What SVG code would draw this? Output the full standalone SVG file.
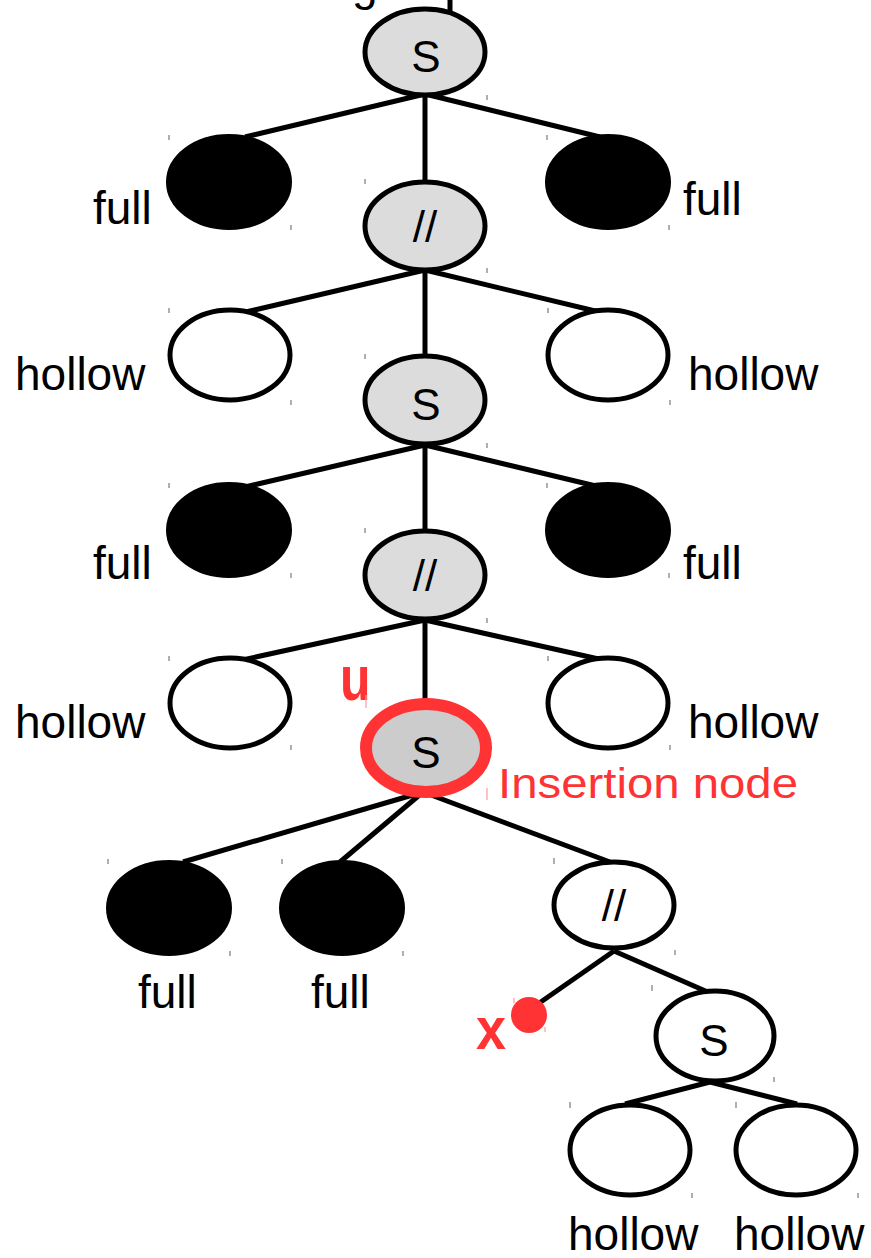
<svg xmlns="http://www.w3.org/2000/svg" width="871" height="1258" viewBox="0 0 871 1258">
  <style>
    .op { fill: #dcdcdc; stroke: #000; stroke-width: 5; }
    .op2 { fill: #fff; stroke: #000; stroke-width: 5; }
    .full { fill: #000; stroke: #000; stroke-width: 2; }
    .hollow { fill: #fff; stroke: #000; stroke-width: 5; }
    .edge { stroke: #000; stroke-width: 5; fill: none; stroke-linecap: butt; }
    .sym { font-family: "Liberation Sans", Arial, sans-serif; font-size: 44px; fill: #000; text-anchor: middle; }
    .lbl { font-family: "Liberation Sans", Arial, sans-serif; font-size: 46px; fill: #000; }
    .red { fill: #ff3333; }
    .redlbl { font-family: "Liberation Sans", Arial, sans-serif; font-weight: bold; fill: #ff3333; }
    .tick { stroke: #7a7a7a; stroke-width: 1.2; }
    .tickr { stroke: #ff9a9a; stroke-width: 1.2; }
  </style>

  <!-- stub of the parent above the root -->
  <g id="parent-stub">
    <text class="lbl" x="352" y="0">g</text>
    <line class="edge" x1="450" y1="0" x2="450" y2="14"/>
  </g>

  <!-- connectors -->
  <g id="connectors">
    <line class="edge" x1="425" y1="94" x2="245" y2="137"/>
    <line class="edge" x1="425" y1="94" x2="425" y2="182"/>
    <line class="edge" x1="425" y1="94" x2="600" y2="137"/>

    <line class="edge" x1="425" y1="270" x2="233" y2="315"/>
    <line class="edge" x1="425" y1="270" x2="425" y2="357"/>
    <line class="edge" x1="425" y1="270" x2="612" y2="315"/>

    <line class="edge" x1="425" y1="445" x2="245" y2="487"/>
    <line class="edge" x1="425" y1="445" x2="425" y2="530"/>
    <line class="edge" x1="425" y1="445" x2="600" y2="487"/>

    <line class="edge" x1="425" y1="620" x2="233" y2="662"/>
    <line class="edge" x1="425" y1="620" x2="425" y2="706"/>
    <line class="edge" x1="425" y1="620" x2="612" y2="662"/>

    <line class="edge" x1="423" y1="792" x2="183" y2="862"/>
    <line class="edge" x1="423" y1="792" x2="340" y2="862"/>
    <line class="edge" x1="423" y1="792" x2="610" y2="862"/>

    <line class="edge" x1="614" y1="951" x2="535" y2="1006"/>
    <line class="edge" x1="614" y1="951" x2="710" y2="993"/>

    <line class="edge" x1="710" y1="1082" x2="625" y2="1104"/>
    <line class="edge" x1="710" y1="1082" x2="797" y2="1104"/>
  </g>

  <!-- spine of alternating series / parallel nodes -->
  <g id="s1"><ellipse class="op" cx="425" cy="52" rx="60" ry="43"/><text class="sym" x="426" y="72">S</text></g>
  <g id="p1"><ellipse class="op" cx="425" cy="226" rx="60" ry="44"/><text class="sym" x="425" y="242">//</text></g>
  <g id="s2"><ellipse class="op" cx="425" cy="400" rx="60" ry="44"/><text class="sym" x="426" y="420">S</text></g>
  <g id="p2"><ellipse class="op" cx="425" cy="575" rx="60" ry="44"/><text class="sym" x="425" y="591">//</text></g>

  <!-- leaves along the spine -->
  <g id="f1l"><ellipse class="full" cx="229" cy="182" rx="62" ry="47"/><text class="lbl" x="93" y="224">full</text></g>
  <g id="f1r"><ellipse class="full" cx="608" cy="182" rx="62" ry="47"/><text class="lbl" x="683" y="215">full</text></g>
  <g id="h1l"><ellipse class="hollow" cx="230" cy="355" rx="60" ry="45"/><text class="lbl" x="15" y="390">hollow</text></g>
  <g id="h1r"><ellipse class="hollow" cx="608" cy="355" rx="60" ry="45"/><text class="lbl" x="688" y="390">hollow</text></g>
  <g id="f2l"><ellipse class="full" cx="229" cy="530" rx="62" ry="47"/><text class="lbl" x="93" y="579">full</text></g>
  <g id="f2r"><ellipse class="full" cx="608" cy="530" rx="62" ry="47"/><text class="lbl" x="683" y="579">full</text></g>
  <g id="h2l"><ellipse class="hollow" cx="230" cy="703" rx="60" ry="45"/><text class="lbl" x="15" y="738">hollow</text></g>
  <g id="h2r"><ellipse class="hollow" cx="608" cy="703" rx="60" ry="45"/><text class="lbl" x="688" y="738">hollow</text></g>

  <!-- insertion node u -->
  <g id="u">
    <ellipse cx="426" cy="748" rx="60" ry="44" fill="#cccccc" stroke="#ff3333" stroke-width="12"/>
    <text class="sym" x="426" y="768">S</text>
    <text class="redlbl" font-size="50" transform="translate(340 700) scale(1 1.25)">u</text>
    <text x="498" y="798" font-family="Liberation Sans, Arial, sans-serif" font-size="42" fill="#ff3333" textLength="300" lengthAdjust="spacingAndGlyphs">Insertion node</text>
  </g>

  <!-- children of u -->
  <g id="f3a"><ellipse class="full" cx="169" cy="908" rx="62" ry="47"/><text class="lbl" x="138" y="1008">full</text></g>
  <g id="f3b"><ellipse class="full" cx="342" cy="908" rx="62" ry="47"/><text class="lbl" x="311" y="1008">full</text></g>
  <g id="p3"><ellipse class="op2" cx="614" cy="905" rx="60" ry="43"/><text class="sym" x="614" y="921">//</text></g>

  <!-- new leaf x -->
  <g id="x">
    <circle class="red" cx="529" cy="1015" r="18"/>
    <text class="redlbl" font-size="54" transform="translate(476 1049) scale(1 1.1)">x</text>
  </g>

  <g id="s3"><ellipse class="op2" cx="715" cy="1036" rx="59" ry="45"/><text class="sym" x="714" y="1056">S</text></g>
  <g id="h3l"><ellipse class="hollow" cx="630" cy="1150" rx="60" ry="45"/><text class="lbl" x="568" y="1250">hollow</text></g>
  <g id="h3r"><ellipse class="hollow" cx="796" cy="1150" rx="60" ry="45"/><text class="lbl" x="734" y="1250">hollow</text></g>

  <!-- bounding-box corner marks -->
  <g id="marks">
    <line class="tick" x1="487" y1="95" x2="487" y2="100"/>
    <line class="tick" x1="169" y1="135" x2="169" y2="140"/>
    <line class="tick" x1="291" y1="225" x2="291" y2="230"/>
    <line class="tick" x1="547" y1="135" x2="547" y2="140"/>
    <line class="tick" x1="669" y1="225" x2="669" y2="230"/>
    <line class="tick" x1="365" y1="179" x2="365" y2="184"/>
    <line class="tick" x1="487" y1="268" x2="487" y2="273"/>
    <line class="tick" x1="169" y1="308" x2="169" y2="313"/>
    <line class="tick" x1="291" y1="400" x2="291" y2="405"/>
    <line class="tick" x1="548" y1="308" x2="548" y2="313"/>
    <line class="tick" x1="670" y1="400" x2="670" y2="405"/>
    <line class="tick" x1="365" y1="354" x2="365" y2="359"/>
    <line class="tick" x1="487" y1="443" x2="487" y2="448"/>
    <line class="tick" x1="169" y1="483" x2="169" y2="488"/>
    <line class="tick" x1="291" y1="573" x2="291" y2="578"/>
    <line class="tick" x1="547" y1="483" x2="547" y2="488"/>
    <line class="tick" x1="669" y1="573" x2="669" y2="578"/>
    <line class="tick" x1="365" y1="528" x2="365" y2="533"/>
    <line class="tick" x1="487" y1="618" x2="487" y2="623"/>
    <line class="tick" x1="169" y1="656" x2="169" y2="661"/>
    <line class="tick" x1="291" y1="745" x2="291" y2="750"/>
    <line class="tick" x1="548" y1="656" x2="548" y2="661"/>
    <line class="tick" x1="670" y1="745" x2="670" y2="750"/>
    <line class="tickr" x1="366" y1="695" x2="366" y2="708"/>
    <line class="tickr" x1="487" y1="788" x2="487" y2="800"/>
    <line class="tick" x1="108" y1="859" x2="108" y2="864"/>
    <line class="tick" x1="230" y1="951" x2="230" y2="956"/>
    <line class="tick" x1="282" y1="859" x2="282" y2="864"/>
    <line class="tick" x1="403" y1="951" x2="403" y2="956"/>
    <line class="tick" x1="554" y1="858" x2="554" y2="864"/>
    <line class="tick" x1="675" y1="950" x2="675" y2="955"/>
    <line class="tick" x1="652" y1="985" x2="652" y2="991"/>
    <line class="tick" x1="774" y1="1077" x2="774" y2="1082"/>
    <line class="tickr" x1="514" y1="998" x2="514" y2="1003"/>
    <line class="tickr" x1="545" y1="1027" x2="545" y2="1032"/>
    <line class="tick" x1="570" y1="1102" x2="570" y2="1108"/>
    <line class="tick" x1="692" y1="1193" x2="692" y2="1198"/>
    <line class="tick" x1="736" y1="1102" x2="736" y2="1108"/>
    <line class="tick" x1="858" y1="1193" x2="858" y2="1198"/>
  </g>
</svg>
